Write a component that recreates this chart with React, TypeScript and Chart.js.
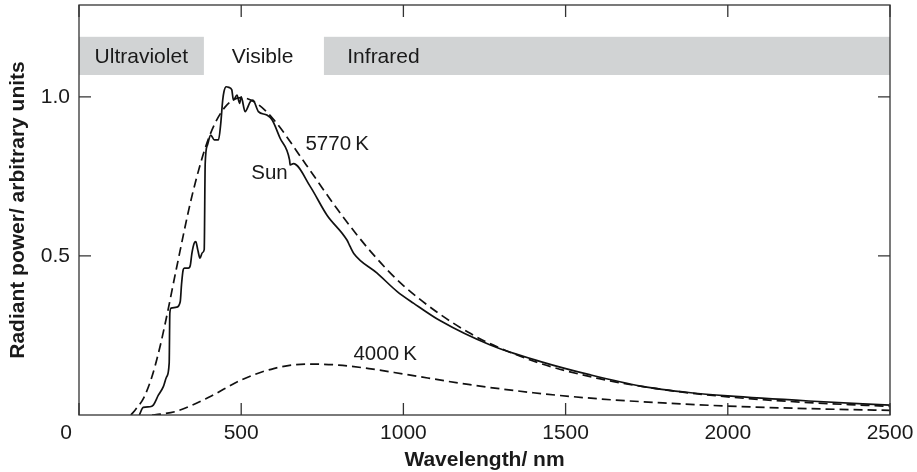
import React, { useEffect, useRef } from "react";
import { Chart, registerables } from "chart.js";

Chart.register(...registerables);

// ---- data ----
const xTicks = [0, 500, 1000, 1500, 2000, 2500];
const xTickLabels = ["0", "500", "1000", "1500", "2000", "2500"];
const yTicks = [0.5, 1.0];
const yTickLabels = ["0.5", "1.0"];

const sunWavelength = [
  186, 198, 219, 229, 245, 260, 270, 278, 280, 284, 301, 312, 316, 321, 325, 337, 343, 348, 355, 360,
  366, 373, 380, 386, 389, 396, 406, 417, 430, 437, 443, 447, 454, 462, 471, 476, 487, 495, 500, 512,
  528, 536, 553, 579, 595, 620, 649, 651, 661, 713, 764, 826, 836, 847, 919, 981, 1032, 1114, 1268,
  1423, 1577, 1731, 1886, 2000, 2250, 2500,
];
const sunPower = [
  0, 0.024, 0.026, 0.031, 0.063, 0.089, 0.12, 0.163, 0.32, 0.336, 0.339, 0.356, 0.41, 0.456, 0.462,
  0.462, 0.47, 0.508, 0.54, 0.545, 0.52, 0.493, 0.51, 0.52, 0.79, 0.849, 0.88, 0.865, 0.865, 0.917,
  0.99, 1.017, 1.032, 1.03, 1.022, 0.99, 1.006, 0.98, 1.0, 0.954, 0.985, 0.99, 0.954, 0.943, 0.928,
  0.87, 0.802, 0.786, 0.79, 0.718, 0.629, 0.55, 0.529, 0.508, 0.446, 0.388, 0.351, 0.296, 0.22,
  0.168, 0.126, 0.091, 0.07, 0.06, 0.044, 0.031,
];

const bb5770Wavelength = [
  160, 175, 200, 225, 250, 275, 300, 350, 400, 450, 500, 550, 600, 700, 800, 900, 1000, 1200, 1400,
  1600, 1800, 2000, 2250, 2500,
];
const bb5770Power = [
  0.0, 0.018, 0.055, 0.121, 0.216, 0.333, 0.459, 0.696, 0.871, 0.968, 0.998, 0.978, 0.929, 0.787,
  0.642, 0.513, 0.407, 0.26, 0.17, 0.115, 0.08, 0.057, 0.039, 0.027,
];

const bb4000Wavelength = [
  225, 250, 300, 400, 500, 600, 700, 800, 900, 1000, 1200, 1400, 1600, 1800, 2000, 2250, 2500,
];
const bb4000Power = [
  0.0, 0.0026, 0.0117, 0.0556, 0.11, 0.146, 0.16, 0.157, 0.145, 0.129, 0.096, 0.07, 0.051, 0.038,
  0.028, 0.02, 0.0145,
];

const bandNames = ["Ultraviolet", "Visible", "Infrared"];
const bandStart = [0, 385, 755];
const bandEnd = [385, 755, 2500];
const bandShaded = [true, false, true];
const bandLabelX = [192, 566, 827];
const bandLabelAlign: CanvasTextAlign[] = ["center", "center", "left"];
const bandLow = 1.069;
const bandHigh = 1.189;

const annotationText = ["5770\u2009K", "Sun", "4000\u2009K"];
const annotationX = [698, 531, 846];
const annotationY = [0.851, 0.759, 0.19];

const xTitle = "Wavelength/ nm";
const yTitle = "Radiant power/ arbitrary units";

const FONT = '"Liberation Sans", Arial, sans-serif';
const INK = "#1a1a1a";

const toPoints = (xs: number[], ys: number[]) => xs.map((x, i) => ({ x, y: ys[i] }));

const overlay = {
  id: "overlay",
  beforeDatasetsDraw(chart: any) {
    const { ctx, scales } = chart;
    const xs = scales.x;
    const ys = scales.y;
    ctx.save();
    const yTop = ys.getPixelForValue(bandHigh);
    const yBot = ys.getPixelForValue(bandLow);
    for (let i = 0; i < bandNames.length; i++) {
      const x0 = xs.getPixelForValue(bandStart[i]);
      const x1 = xs.getPixelForValue(bandEnd[i]);
      if (bandShaded[i]) {
        ctx.fillStyle = "#d1d3d4";
        ctx.fillRect(x0, yTop, x1 - x0, yBot - yTop);
      }
      ctx.fillStyle = INK;
      ctx.font = `21px ${FONT}`;
      ctx.textAlign = bandLabelAlign[i];
      ctx.textBaseline = "middle";
      ctx.fillText(bandNames[i], xs.getPixelForValue(bandLabelX[i]), (yTop + yBot) / 2 + 1);
    }
    ctx.restore();
  },
  afterDatasetsDraw(chart: any) {
    const { ctx, scales, chartArea } = chart;
    const xs = scales.x;
    const ys = scales.y;
    const { left, right, top, bottom } = chartArea;
    ctx.save();
    // frame
    ctx.strokeStyle = "#333";
    ctx.lineWidth = 1.3;
    ctx.strokeRect(left, top, right - left, bottom - top);
    // inward ticks
    const tl = 12;
    ctx.beginPath();
    xTicks.forEach((v) => {
      const px = xs.getPixelForValue(v);
      ctx.moveTo(px, bottom);
      ctx.lineTo(px, bottom - tl);
      ctx.moveTo(px, top);
      ctx.lineTo(px, top + tl);
    });
    yTicks.forEach((v) => {
      const py = ys.getPixelForValue(v);
      ctx.moveTo(left, py);
      ctx.lineTo(left + tl, py);
      ctx.moveTo(right, py);
      ctx.lineTo(right - tl, py);
    });
    ctx.stroke();
    // tick labels
    ctx.fillStyle = INK;
    ctx.font = `21px ${FONT}`;
    ctx.textBaseline = "middle";
    ctx.textAlign = "center";
    xTicks.forEach((v, i) => {
      let px = xs.getPixelForValue(v);
      if (v === 0) px -= 13;
      ctx.fillText(xTickLabels[i], px, bottom + 18);
    });
    ctx.textAlign = "right";
    yTicks.forEach((v, i) => {
      ctx.fillText(yTickLabels[i], left - 9, ys.getPixelForValue(v));
    });
    // annotations
    ctx.textAlign = "left";
    ctx.font = `20.5px ${FONT}`;
    annotationText.forEach((t, i) => {
      ctx.fillText(t, xs.getPixelForValue(annotationX[i]), ys.getPixelForValue(annotationY[i]));
    });
    // titles
    ctx.font = `bold 21px ${FONT}`;
    ctx.textAlign = "center";
    ctx.fillText(xTitle, (left + right) / 2, bottom + 45);
    ctx.translate(18, (top + bottom) / 2);
    ctx.rotate(-Math.PI / 2);
    ctx.fillText(yTitle, 0, 0);
    ctx.restore();
  },
};

export default function App() {
  const ref = useRef<HTMLCanvasElement | null>(null);
  useEffect(() => {
    if (!ref.current) return;
    const chart = new Chart(ref.current, {
      type: "line",
      data: {
        datasets: [
          {
            label: "Sun",
            data: toPoints(sunWavelength, sunPower),
            borderColor: "#111",
            borderWidth: 1.7,
            pointRadius: 0,
            cubicInterpolationMode: "monotone",
            fill: false,
          },
          {
            label: "5770 K",
            data: toPoints(bb5770Wavelength, bb5770Power),
            borderColor: "#111",
            borderWidth: 1.7,
            borderDash: [9, 5],
            pointRadius: 0,
            cubicInterpolationMode: "monotone",
            fill: false,
          },
          {
            label: "4000 K",
            data: toPoints(bb4000Wavelength, bb4000Power),
            borderColor: "#111",
            borderWidth: 1.7,
            borderDash: [9, 5],
            pointRadius: 0,
            cubicInterpolationMode: "monotone",
            fill: false,
          },
        ],
      },
      options: {
        responsive: false,
        animation: false,
        devicePixelRatio: 1,
        layout: { padding: { left: 79, right: 27, top: 5, bottom: 57 } },
        plugins: { legend: { display: false }, tooltip: { enabled: false } },
        scales: {
          x: { type: "linear", min: 0, max: 2500, display: false },
          y: { type: "linear", min: 0, max: 1.289, display: false },
        },
      },
      plugins: [overlay],
    });
    return () => chart.destroy();
  }, []);
  return (
    <div style={{ position: "absolute", left: 0, top: 0, width: 917, height: 472, background: "#fff" }}>
      <canvas ref={ref} width={917} height={472} style={{ width: 917, height: 472, display: "block" }} />
    </div>
  );
}
